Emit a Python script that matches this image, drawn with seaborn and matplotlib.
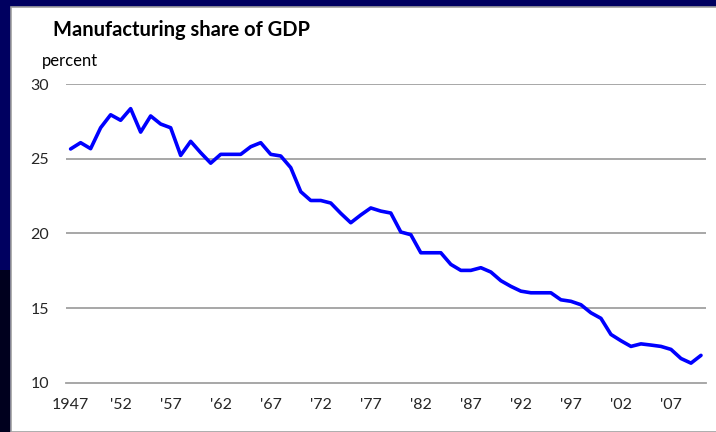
import numpy as np
import pandas as pd
import matplotlib
matplotlib.use("Agg")
import matplotlib.pyplot as plt
import seaborn as sns
from matplotlib.patches import Rectangle

years = list(range(1947, 2011))
share = [25.65, 26.07, 25.67, 27.07, 27.94, 27.57, 28.35, 26.78, 27.86, 27.32,
         27.07, 25.22, 26.16, 25.40, 24.70, 25.29, 25.29, 25.29, 25.80, 26.07,
         25.29, 25.18, 24.40, 22.79, 22.20, 22.20, 22.03, 21.34, 20.71, 21.23,
         21.70, 21.49, 21.36, 20.09, 19.91, 18.70, 18.70, 18.70, 17.92, 17.52,
         17.52, 17.70, 17.41, 16.83, 16.45, 16.13, 16.02, 16.02, 16.02, 15.55,
         15.45, 15.22, 14.68, 14.31, 13.23, 12.81, 12.43, 12.60, 12.52, 12.43,
         12.23, 11.62, 11.31, 11.83]
label_years = [1947, 1952, 1957, 1962, 1967, 1972, 1977, 1982, 1987, 1992, 1997, 2002, 2007]
label_text = ["1947", "'52", "'57", "'62", "'67", "'72", "'77", "'82", "'87", "'92", "'97", "'02", "'07"]

df = pd.DataFrame({"year": years, "share": share})

sns.set_style("white")
plt.rcParams["font.family"] = ["Lato", "DejaVu Sans"]

fig = plt.figure(figsize=(7.16, 4.32), dpi=100)
fig.patch.set_facecolor("#000060")
# white slide panel behind the chart
fig.patches.append(Rectangle((11 / 716, 0), 1, 1 - 7 / 432, transform=fig.transFigure,
                             facecolor="white", edgecolor="#a0a0a0", linewidth=1.2, zorder=-5))
fig.patches.append(Rectangle((0, 0), 10 / 716, 162 / 432, transform=fig.transFigure,
                             facecolor="#00001e", edgecolor="none", zorder=-5))

ax = fig.add_axes([65.6 / 716, 1 - 382.7 / 432, (706 - 65.6) / 716, (382.7 - 84) / 432])
ax.set_facecolor("none")

sns.lineplot(data=df, x="year", y="share", ax=ax, color="#0000ff", linewidth=2.6, zorder=3)

ax.set_xlim(1946.5, 2010.5)
ax.set_ylim(10, 30)
ax.set_yticks([10, 15, 20, 25, 30])
for v in [15, 20, 25, 30]:
    ax.axhline(v, color="#a0a0a0", linewidth=1.3, zorder=1)

for s in ["left", "right", "top"]:
    ax.spines[s].set_visible(False)
ax.spines["bottom"].set_color("#a0a0a0")
ax.spines["bottom"].set_linewidth(1.3)

ax.set_xticks(np.arange(1946.5, 2011, 1.0))
ax.set_xticklabels([])
ax.tick_params(axis="x", which="major", length=5, width=1.2, color="#909090", direction="out")
ax.set_xticks(label_years, minor=True)
ax.set_xticklabels(label_text, minor=True)
ax.tick_params(axis="x", which="minor", length=0, pad=11, labelsize=11.5)
ax.tick_params(axis="y", length=0, pad=12, labelsize=11.5)

ax.set_xlabel("")
ax.set_ylabel("")

fig.text(53 / 716, 1 - 30 / 432, "Manufacturing share of GDP", fontsize=14.5, fontweight="bold",
         ha="left", va="center", color="black")
fig.text(42 / 716, 1 - 61 / 432, "percent", fontsize=12, ha="left", va="center", color="black")

fig.savefig("out.png", dpi=100, facecolor=fig.get_facecolor())
